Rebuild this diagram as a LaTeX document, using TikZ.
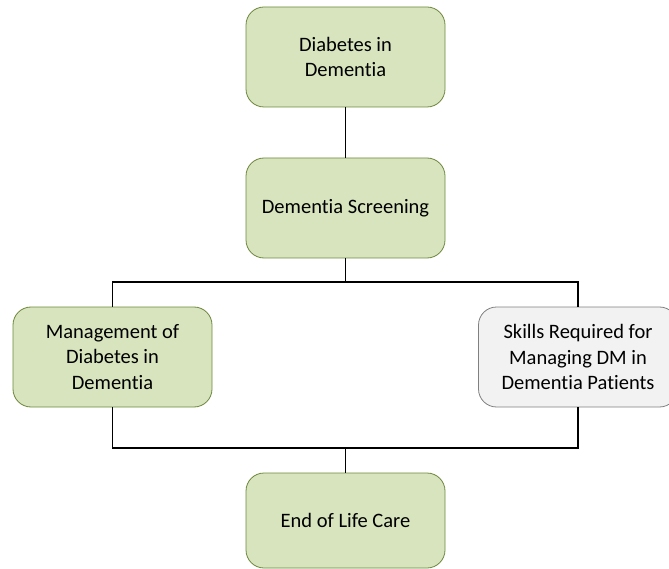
\documentclass[tikz,border=0pt]{standalone}
\usepackage{fontspec}
\setmainfont[Ligatures={NoCommon,NoRequired,NoContextual}]{Carlito}
\begin{document}
\begin{tikzpicture}[x=1pt,y=-1pt,
  box/.style={draw=boxedge, line width=0.8pt, fill=boxgreen, rounded corners=18pt,
    minimum width=199pt, minimum height=100pt, align=center, inner sep=2pt,
    font=\fontsize{20.5}{25.7}\selectfont},
  graybox/.style={box, draw=grayedge, fill=boxgray},
  conn/.style={line width=1.7pt, black}]
\definecolor{boxgreen}{RGB}{215,228,189}
\definecolor{boxedge}{RGB}{110,135,60}
\definecolor{boxgray}{RGB}{242,242,242}
\definecolor{grayedge}{RGB}{128,128,128}
\useasboundingbox (0,0) rectangle (669,569);
\node[box] (a) at (345.5,57) {Diabetes in\\Dementia};
\node[box] (b) at (345.5,208) {Dementia Screening};
\node[box] (c) at (112.5,357) {Management of\\Diabetes in\\Dementia};
\node[graybox] (d) at (578,357) {Skills Required for\\Managing DM in\\Dementia Patients};
\node[box, minimum height=95pt] (e) at (345.5,520.5) {End of Life Care};
\coordinate (top) at (345.5,282);
\coordinate (bot) at (345.5,448);
\draw[conn] (a.south) -- (b.north);
\draw[conn] (b.south) -- (top);
\draw[conn] (c.north) |- (top) -| (d.north);
\draw[conn] (c.south) |- (bot) -| (d.south);
\draw[conn] (bot) -- (e.north);
\end{tikzpicture}
\end{document}
